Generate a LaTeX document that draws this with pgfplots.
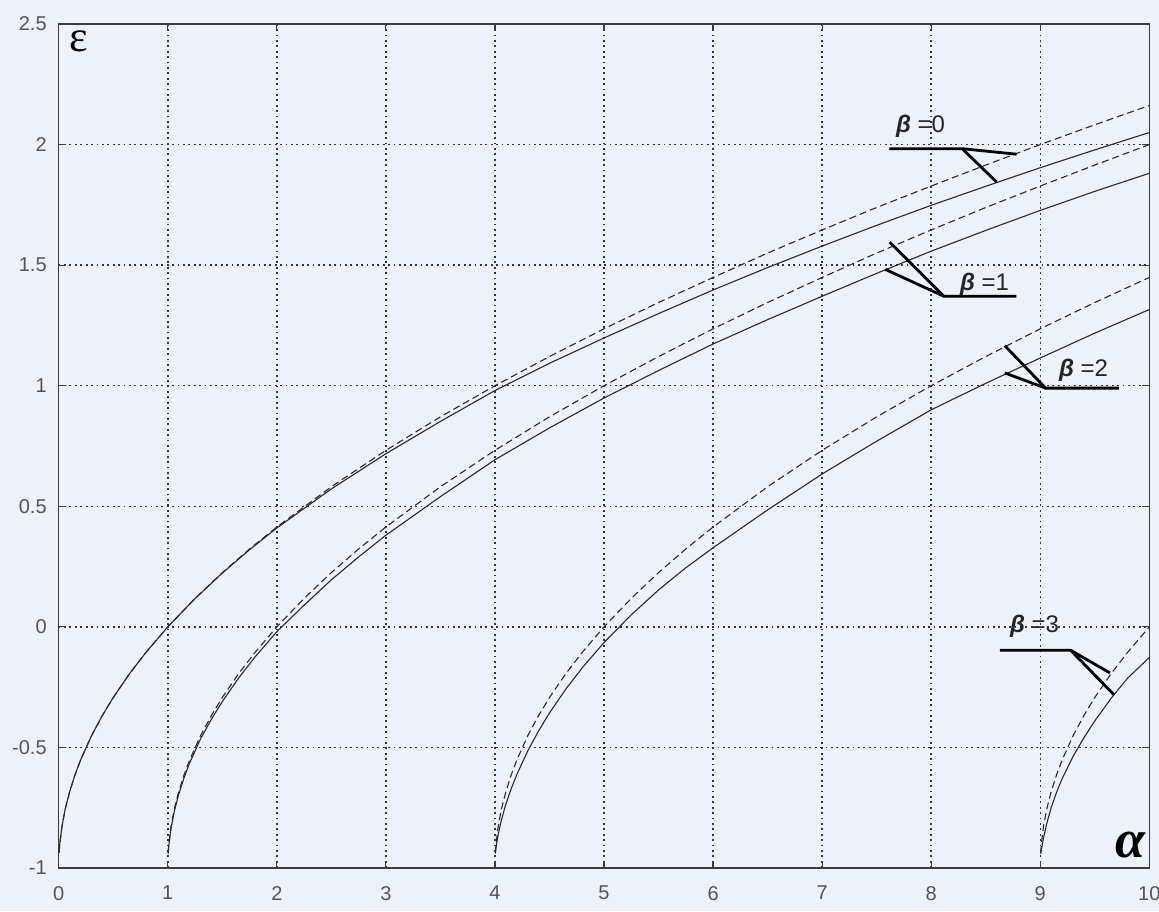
\documentclass[border=0pt]{standalone}
\usepackage{pgfplots}
\pgfplotsset{compat=1.18}
\usepackage{fontspec}
\setmainfont{Liberation Sans}
\newfontfamily\serifgr{Liberation Serif}
\definecolor{bg}{HTML}{EDF1FA}
\definecolor{ax}{HTML}{3C3C3C}
\definecolor{tl}{HTML}{555555}
\definecolor{cv}{HTML}{2A2A2A}

\pgfplotstableread{
x y
0.004 -0.937
0.01 -0.900
0.03 -0.827
0.06 -0.755
0.1 -0.684
0.15 -0.613
0.2 -0.553
0.3 -0.452
0.4 -0.368
0.5 -0.293
0.65 -0.194
0.8 -0.106
1 0
1.25 0.118
1.5 0.225
1.75 0.323
2 0.414
2.5 0.581
3 0.732
3.5 0.871
4 1.000
4.5 1.121
5 1.236
5.5 1.345
6 1.449
6.5 1.550
7 1.646
7.5 1.739
8 1.828
8.5 1.915
9 2.000
9.5 2.082
10 2.162
}\dashA

\pgfplotstableread{
x y
1.004 -0.937
1.01 -0.900
1.03 -0.827
1.06 -0.755
1.1 -0.684
1.15 -0.613
1.2 -0.553
1.3 -0.452
1.4 -0.368
1.5 -0.293
1.65 -0.194
1.8 -0.106
2 0
2.25 0.118
2.5 0.225
2.75 0.323
3 0.414
3.5 0.581
4 0.732
4.5 0.871
5 1.000
5.5 1.121
6 1.236
6.5 1.345
7 1.449
7.5 1.550
8 1.646
8.5 1.739
9 1.828
9.5 1.915
10 2.000
}\dashB

\pgfplotstableread{
x y
4.004 -0.937
4.01 -0.900
4.03 -0.827
4.06 -0.755
4.1 -0.684
4.15 -0.613
4.2 -0.553
4.3 -0.452
4.4 -0.368
4.5 -0.293
4.65 -0.194
4.8 -0.106
5 0
5.25 0.118
5.5 0.225
5.75 0.323
6 0.414
6.5 0.581
7 0.732
7.5 0.871
8 1.000
8.5 1.121
9 1.236
9.5 1.345
10 1.449
}\dashC

\pgfplotstableread{
x y
9.004 -0.937
9.01 -0.900
9.03 -0.827
9.06 -0.755
9.1 -0.684
9.15 -0.613
9.2 -0.553
9.3 -0.452
9.4 -0.368
9.5 -0.293
9.65 -0.194
9.8 -0.106
10 0
}\dashD

\pgfplotstableread{
x y
0.004 -0.937
0.01 -0.900
0.03 -0.827
0.06 -0.755
0.1 -0.684
0.15 -0.613
0.2 -0.553
0.3 -0.452
0.4 -0.368
0.5 -0.293
0.65 -0.194
0.8 -0.106
1 0
1.25 0.117
1.5 0.223
1.75 0.320
2 0.410
2.5 0.572
3 0.718
3.5 0.852
4 0.980
4.5 1.093
5 1.198
5.5 1.299
6 1.397
6.5 1.490
7 1.579
7.5 1.665
8 1.748
8.5 1.827
9 1.904
9.5 1.978
10 2.050
}\solA

\pgfplotstableread{
x y
1.004 -0.940
1.01 -0.905
1.03 -0.835
1.06 -0.765
1.1 -0.695
1.15 -0.625
1.2 -0.565
1.3 -0.465
1.4 -0.383
1.5 -0.310
1.65 -0.212
1.8 -0.125
2 -0.020
2.25 0.090
2.5 0.195
2.75 0.290
3 0.380
3.5 0.540
4 0.693
4.5 0.825
5 0.949
5.5 1.063
6 1.173
6.5 1.274
7 1.371
7.5 1.466
8 1.558
8.5 1.644
9 1.727
9.5 1.806
10 1.881
}\solB

\pgfplotstableread{
x y
4.004 -0.940
4.01 -0.915
4.03 -0.860
4.06 -0.800
4.1 -0.735
4.15 -0.670
4.2 -0.613
4.3 -0.515
4.4 -0.432
4.5 -0.357
4.65 -0.258
4.8 -0.170
5 -0.065
5.25 0.050
5.5 0.153
5.75 0.245
6 0.328
6.5 0.485
7 0.634
7.5 0.770
8 0.900
8.5 1.010
9 1.115
9.5 1.218
10 1.316
}\solC

\pgfplotstableread{
x y
9.004 -0.940
9.01 -0.925
9.03 -0.875
9.06 -0.815
9.1 -0.750
9.15 -0.685
9.2 -0.630
9.3 -0.538
9.4 -0.460
9.5 -0.390
9.65 -0.296
9.8 -0.213
10 -0.127
}\solD

\begin{document}
\begin{tikzpicture}
\fill[bg] (0,0) rectangle (579.5pt,455.5pt);
\begin{axis}[
  at={(29.35pt,21.5pt)}, anchor=south west,
  width=545.3pt, height=422pt, scale only axis,
  xmin=0, xmax=10, ymin=-1, ymax=2.5,
  xtick={0,1,2,3,4,5,6,7,8,9,10},
  ytick={-1,-0.5,0,0.5,1,1.5,2,2.5},
  yticklabels={-1,-0.5,0,0.5,1,1.5,2,2.5},
  tick align=inside, major tick length=3.5pt,
  tick style={ax, line width=0.6pt},
  axis line style={ax, line width=0.8pt},
  grid=major,
  major grid style={black!80, line width=0.75pt, dash pattern=on 0.9pt off 1.8pt},
  ticklabel style={font=\fontsize{10}{11}\selectfont, text=tl},
  /pgf/number format/assume math mode=true,
  xticklabel style={yshift=-5.5pt},
  yticklabel style={xshift=-2.5pt},
  axis background/.style={fill=bg},
]
\addplot[cv, line width=0.55pt, dash pattern=on 3.5pt off 2pt] table {\dashA};
\addplot[cv, line width=0.55pt, dash pattern=on 3.5pt off 2pt] table {\dashB};
\addplot[cv, line width=0.55pt, dash pattern=on 3.5pt off 2pt] table {\dashC};
\addplot[cv, line width=0.55pt, dash pattern=on 3.5pt off 2pt] table {\dashD};
\addplot[cv, line width=0.55pt] table {\solA};
\addplot[cv, line width=0.55pt] table {\solB};
\addplot[cv, line width=0.55pt] table {\solC};
\addplot[cv, line width=0.55pt] table {\solD};

% annotations
\draw[black, line width=1.4pt] (axis cs:7.617,1.983) -- (axis cs:8.284,1.983) -- (axis cs:8.783,1.960);
\draw[black, line width=1.4pt] (axis cs:8.284,1.983) -- (axis cs:8.599,1.845);
\node[font=\fontsize{12}{14}\selectfont, text=black!85] at (axis cs:7.902,2.074) {{\bfseries\itshape β} =0};

\draw[black, line width=1.4pt] (axis cs:8.782,1.371) -- (axis cs:8.116,1.371) -- (axis cs:7.620,1.595);
\draw[black, line width=1.4pt] (axis cs:8.116,1.371) -- (axis cs:7.581,1.482);
\node[font=\fontsize{12}{14}\selectfont, text=black!85] at (axis cs:8.489,1.420) {{\bfseries\itshape β} =1};

\draw[black, line width=1.4pt] (axis cs:9.721,0.990) -- (axis cs:9.049,0.990) -- (axis cs:8.675,1.166);
\draw[black, line width=1.4pt] (axis cs:9.049,0.990) -- (axis cs:8.675,1.053);
\node[font=\fontsize{12}{14}\selectfont, text=black!85] at (axis cs:9.397,1.066) {{\bfseries\itshape β} =2};

\draw[black, line width=1.4pt] (axis cs:8.629,-0.097) -- (axis cs:9.278,-0.097) -- (axis cs:9.639,-0.191);
\draw[black, line width=1.4pt] (axis cs:9.278,-0.097) -- (axis cs:9.675,-0.281);
\node[font=\fontsize{12}{14}\selectfont, text=black!85] at (axis cs:8.948,0.001) {{\bfseries\itshape β} =3};

\node[font=\serifgr\fontsize{22}{24}\selectfont] at (axis cs:0.186,2.429) {ε};
\node[font=\serifgr\fontsize{27}{30}\selectfont\bfseries\itshape] at (axis cs:9.83,-0.903) {α};
\end{axis}
\pgfresetboundingbox
\useasboundingbox (0,0) rectangle (579.5pt,455.5pt);
\end{tikzpicture}
\end{document}
